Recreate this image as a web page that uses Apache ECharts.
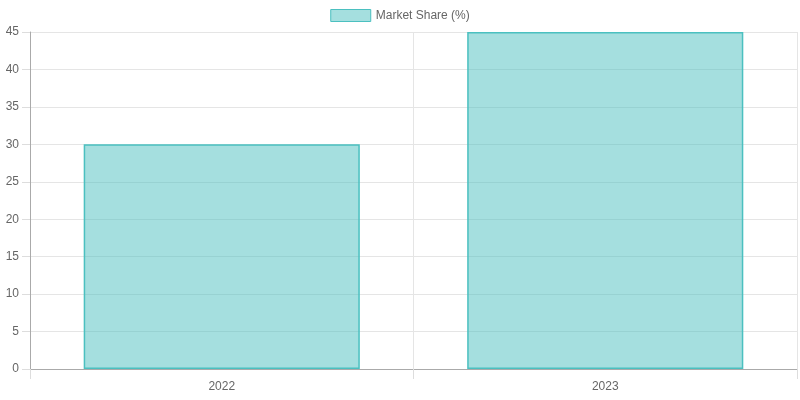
<!DOCTYPE html>
<html><head><meta charset="utf-8">
<script src="https://cdn.jsdelivr.net/npm/echarts@6/dist/echarts.min.js"></script>
<style>html,body{margin:0;padding:0;background:#fff}#c{width:800px;height:400px}</style>
</head><body><div id="c"></div>
<script>
const categories = ['2022', '2023'];
const seriesName = 'Market Share (%)';
const values = [30, 45];

const chart = echarts.init(document.getElementById('c'));
const font = '"Liberation Sans", Arial, sans-serif';
chart.setOption({
  animation: false,
  textStyle: { fontFamily: font },
  legend: {
    top: 4, left: 'center',
    itemWidth: 40, itemHeight: 12, itemGap: 10,
    itemStyle: { borderWidth: 1 },
    textStyle: { color: '#666', fontSize: 12, fontFamily: font },
    data: [{ name: seriesName, icon: 'rect' }]
  },
  grid: { left: 30, right: 3, top: 32, bottom: 31, containLabel: false },
  xAxis: {
    type: 'category', data: categories,
    axisLine: { lineStyle: { color: '#aaa' } },
    axisTick: { show: true, length: 10, lineStyle: { color: '#ddd' } },
    splitLine: { show: true, lineStyle: { color: '#e5e5e5' } },
    axisLabel: { color: '#666', fontSize: 12, margin: 12, fontFamily: font }
  },
  yAxis: {
    type: 'value', min: 0, max: 45, interval: 5,
    axisLine: { show: true, lineStyle: { color: '#aaa' } },
    axisTick: { show: true, length: 8, lineStyle: { color: '#ddd' } },
    splitLine: { lineStyle: { color: '#e5e5e5' } },
    axisLabel: { color: '#666', fontSize: 12, margin: 11, fontFamily: font }
  },
  series: [{
    name: seriesName, type: 'bar', data: values, barWidth: '72%',
    itemStyle: { color: 'rgba(75,192,192,0.5)', borderColor: 'rgb(75,192,192)', borderWidth: 1.5 }
  }]
});
</script></body></html>
